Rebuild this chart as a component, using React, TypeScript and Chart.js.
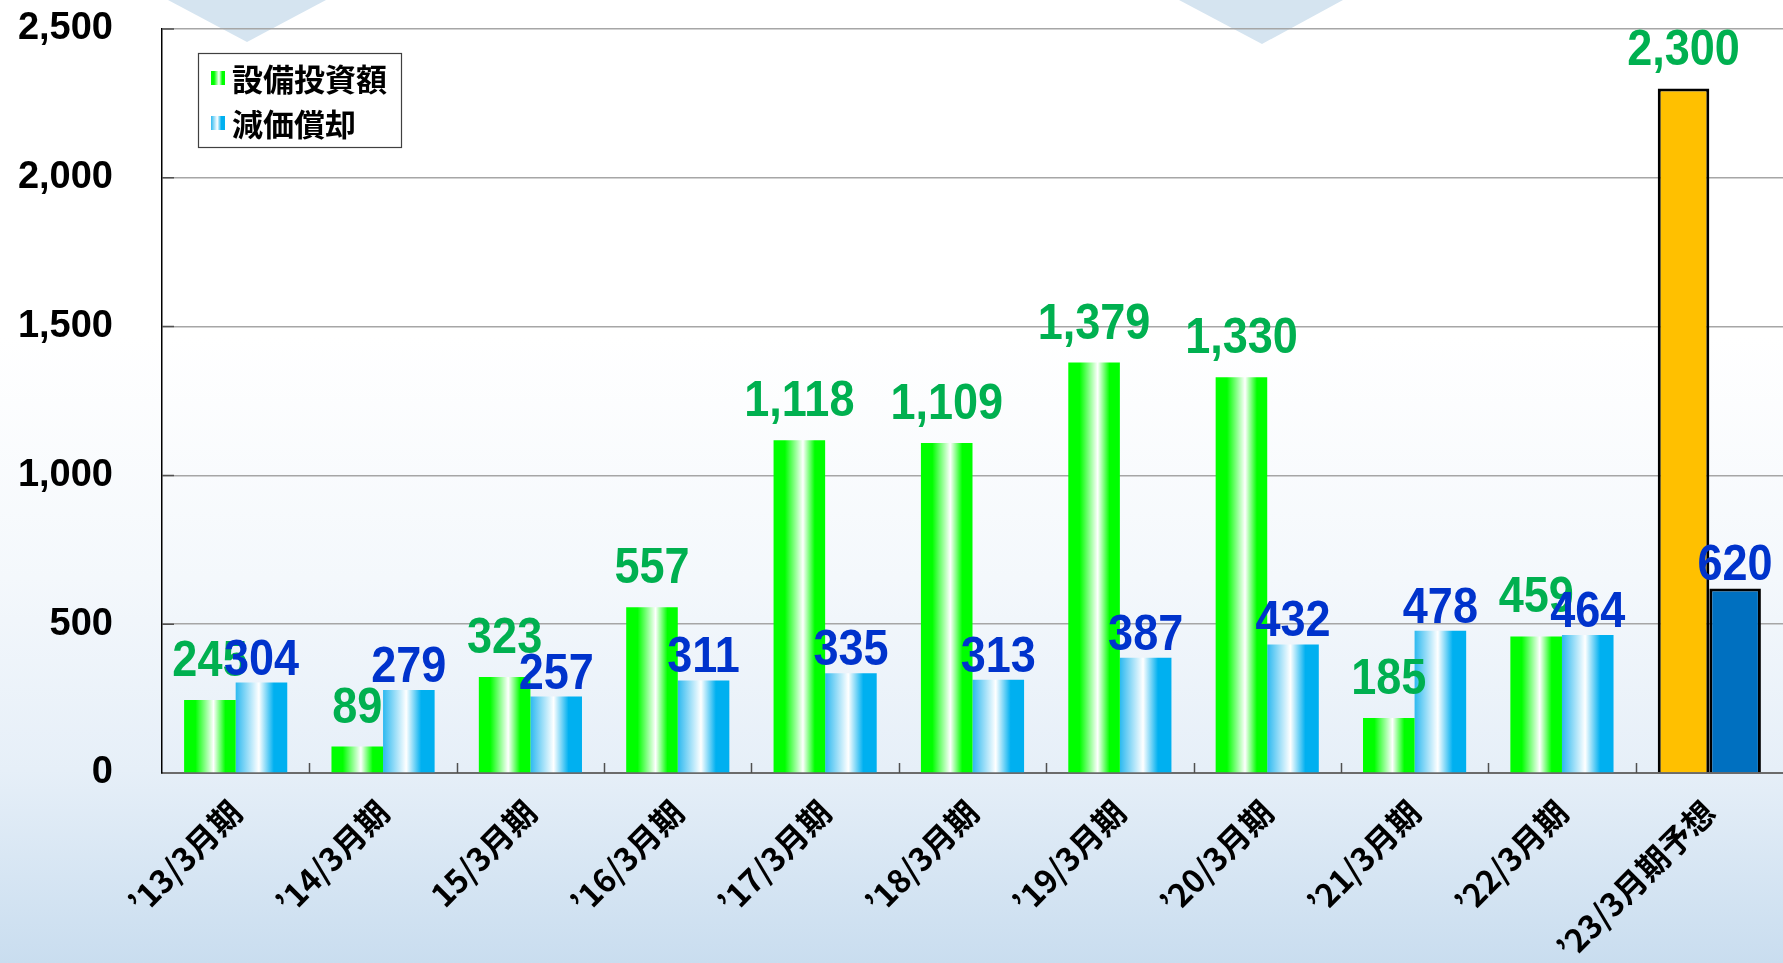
import React, { useEffect, useRef } from 'react';
import { Chart, registerables } from 'chart.js';

Chart.register(...registerables);

const categories = [
  '’13/3月期', '’14/3月期', '15/3月期', '’16/3月期', '’17/3月期', '’18/3月期',
  '’19/3月期', '’20/3月期', '’21/3月期', '’22/3月期', '’23/3月期予想',
];
const capexValues = [245, 89, 323, 557, 1118, 1109, 1379, 1330, 185, 459, 2300];
const depreciationValues = [304, 279, 257, 311, 335, 313, 387, 432, 478, 464, 620];
const seriesNames = ['設備投資額', '減価償却'];
const yTickValues = [0, 500, 1000, 1500, 2000, 2500];
const forecastIndex = 10;

const CAT_PCT = 0.7;

function greenGrad(ctx: CanvasRenderingContext2D, l: number, w: number) {
  const g = ctx.createLinearGradient(l, 0, l + w, 0);
  g.addColorStop(0, '#00ff00');
  g.addColorStop(0.22, '#00ff00');
  g.addColorStop(0.57, '#ffffff');
  g.addColorStop(0.8, '#00ff00');
  g.addColorStop(1, '#00ff00');
  return g;
}
function blueGrad(ctx: CanvasRenderingContext2D, l: number, w: number) {
  const g = ctx.createLinearGradient(l, 0, l + w, 0);
  g.addColorStop(0, '#2cb9f0');
  g.addColorStop(0.45, '#ffffff');
  g.addColorStop(0.74, '#00b0f0');
  g.addColorStop(1, '#00b0f0');
  return g;
}

function barFill(context: any) {
  const chart = context.chart;
  const ds = context.datasetIndex;
  const i = context.dataIndex;
  if (i === forecastIndex) return ds === 0 ? '#ffc000' : '#0070c0';
  const xs = chart.scales?.x;
  if (!chart.chartArea || !xs) return ds === 0 ? '#00ff00' : '#00b0f0';
  const cw = xs.width / categories.length;
  const bw = (cw * CAT_PCT) / 2;
  const c = xs.getPixelForValue(i);
  const left = ds === 0 ? c - bw : c;
  return ds === 0 ? greenGrad(chart.ctx, left, bw) : blueGrad(chart.ctx, left, bw);
}

const fmt = (v: number) => v.toLocaleString('en-US');

const valueLabelPlugin = {
  id: 'valueLabels',
  afterDatasetsDraw(chart: any) {
    const ctx = chart.ctx;
    const colors = ['#00b050', '#0033cc'];
    const gaps = [24, 8];
    chart.data.datasets.forEach((d: any, di: number) => {
      const meta = chart.getDatasetMeta(di);
      meta.data.forEach((el: any, i: number) => {
        const txt = fmt(d.data[i]);
        ctx.save();
        ctx.translate(el.x, el.y - gaps[di]);
        ctx.scale(0.9, 1);
        ctx.font = 'bold 50px "Liberation Sans", Arial, sans-serif';
        ctx.fillStyle = colors[di];
        ctx.textAlign = 'center';
        ctx.textBaseline = 'alphabetic';
        ctx.fillText(txt, 0, 0);
        ctx.restore();
      });
    });
  },
};

const tickMarkPlugin = {
  id: 'innerTicks',
  afterDatasetsDraw(chart: any) {
    const ctx = chart.ctx;
    const xs = chart.scales.x;
    const ys = chart.scales.y;
    const { left, bottom } = chart.chartArea;
    const cw = xs.width / categories.length;
    ctx.save();
    ctx.strokeStyle = '#505050';
    ctx.lineWidth = 1.5;
    ctx.beginPath();
    for (let i = 1; i < categories.length; i++) {
      const x = Math.round(xs.getPixelForValue(i) - cw / 2) + 0.5;
      ctx.moveTo(x, bottom - 10);
      ctx.lineTo(x, bottom);
    }
    yTickValues.forEach((v) => {
      if (v === 0) return;
      const y = ys.getPixelForValue(v);
      ctx.moveTo(left, y);
      ctx.lineTo(left + 12, y);
    });
    ctx.stroke();
    ctx.restore();
  },
};

const legendPlugin = {
  id: 'boxLegend',
  afterDraw(chart: any) {
    const ctx = chart.ctx;
    ctx.save();
    ctx.fillStyle = '#ffffff';
    ctx.fillRect(198.5, 53.5, 203, 94);
    ctx.strokeStyle = '#404040';
    ctx.lineWidth = 1.2;
    ctx.strokeRect(198.5, 53.5, 203, 94);
    const rows = [78, 123];
    rows.forEach((cy, idx) => {
      const l = 211;
      const w = 14;
      ctx.fillStyle = idx === 0 ? greenGrad(ctx, l, w) : blueGrad(ctx, l, w);
      ctx.fillRect(l, cy - 7, w, 14);
      ctx.fillStyle = '#000000';
      ctx.font = 'bold 31px "Noto Sans CJK JP", sans-serif';
      ctx.textAlign = 'left';
      ctx.textBaseline = 'middle';
      ctx.fillText(seriesNames[idx], 232, cy + 1);
    });
    ctx.restore();
  },
};

const zeroPad = (s: any) => {
  s.paddingTop = 0;
  s.paddingBottom = 0;
  s.paddingLeft = 0;
  s.paddingRight = 0;
};

export default function App() {
  const canvasRef = useRef<HTMLCanvasElement | null>(null);

  useEffect(() => {
    if (!canvasRef.current) return;
    const chart = new Chart(canvasRef.current, {
      type: 'bar',
      data: {
        labels: categories,
        datasets: [
          {
            label: seriesNames[0],
            data: capexValues,
            backgroundColor: barFill,
            borderColor: '#000000',
            borderWidth: (c: any) => (c.dataIndex === forecastIndex ? 3 : 0),
            categoryPercentage: CAT_PCT,
            barPercentage: 1,
          },
          {
            label: seriesNames[1],
            data: depreciationValues,
            backgroundColor: barFill,
            borderColor: '#000000',
            borderWidth: (c: any) => (c.dataIndex === forecastIndex ? 3 : 0),
            categoryPercentage: CAT_PCT,
            barPercentage: 1,
          },
        ],
      },
      options: {
        animation: false,
        responsive: false,
        devicePixelRatio: 1,
        layout: { padding: { top: 29, left: 0, right: 0, bottom: 0 } },
        plugins: {
          legend: { display: false },
          tooltip: { enabled: false },
          title: { display: false },
        },
        scales: {
          x: {
            grid: { display: false },
            border: { display: true, color: '#6b6b6b', width: 2 },
            ticks: {
              autoSkip: false,
              minRotation: 45,
              maxRotation: 45,
              padding: 12,
              color: '#000000',
              font: { family: '"Noto Sans CJK JP", sans-serif', size: 32, weight: 'bold' },
            },
            afterFit: (s: any) => {
              s.height = 190;
              zeroPad(s);
            },
          },
          y: {
            min: 0,
            max: 2500,
            afterBuildTicks: (s: any) => {
              s.ticks = yTickValues.map((v) => ({ value: v }));
            },
            ticks: {
              padding: 49,
              color: '#000000',
              font: { family: '"Liberation Sans", Arial, sans-serif', size: 38, weight: 'bold' },
              callback: (v: any) => fmt(Number(v)),
            },
            grid: {
              drawTicks: false,
              color: (c: any) => (c.tick && c.tick.value === 0 ? 'rgba(0,0,0,0)' : '#a6a6a6'),
              lineWidth: 1.5,
            },
            border: { display: true, color: '#000000', width: 1.5 },
            afterFit: (s: any) => {
              s.width = 162;
              zeroPad(s);
            },
          },
        },
      },
      plugins: [tickMarkPlugin, valueLabelPlugin, legendPlugin],
    } as any);
    return () => chart.destroy();
  }, []);

  return (
    <div
      style={{
        position: 'fixed',
        left: 0,
        top: 0,
        width: 1783,
        height: 963,
        overflow: 'hidden',
        background:
          'linear-gradient(to bottom, #ffffff 0%, #ffffff 35%, #f4f8fc 60%, #e6eff8 80%, #c9ddef 100%)',
      }}
    >
      <svg
        width={1783}
        height={963}
        style={{ position: 'absolute', left: 0, top: 0 }}
      >
        <polygon points="168,0 326,0 247,42" fill="#d5e4f0" />
        <polygon points="1179,0 1343,0 1262,44" fill="#d5e4f0" />
      </svg>
      <canvas
        ref={canvasRef}
        width={1783}
        height={963}
        style={{ position: 'absolute', left: 0, top: 0, display: 'block' }}
      />
    </div>
  );
}
